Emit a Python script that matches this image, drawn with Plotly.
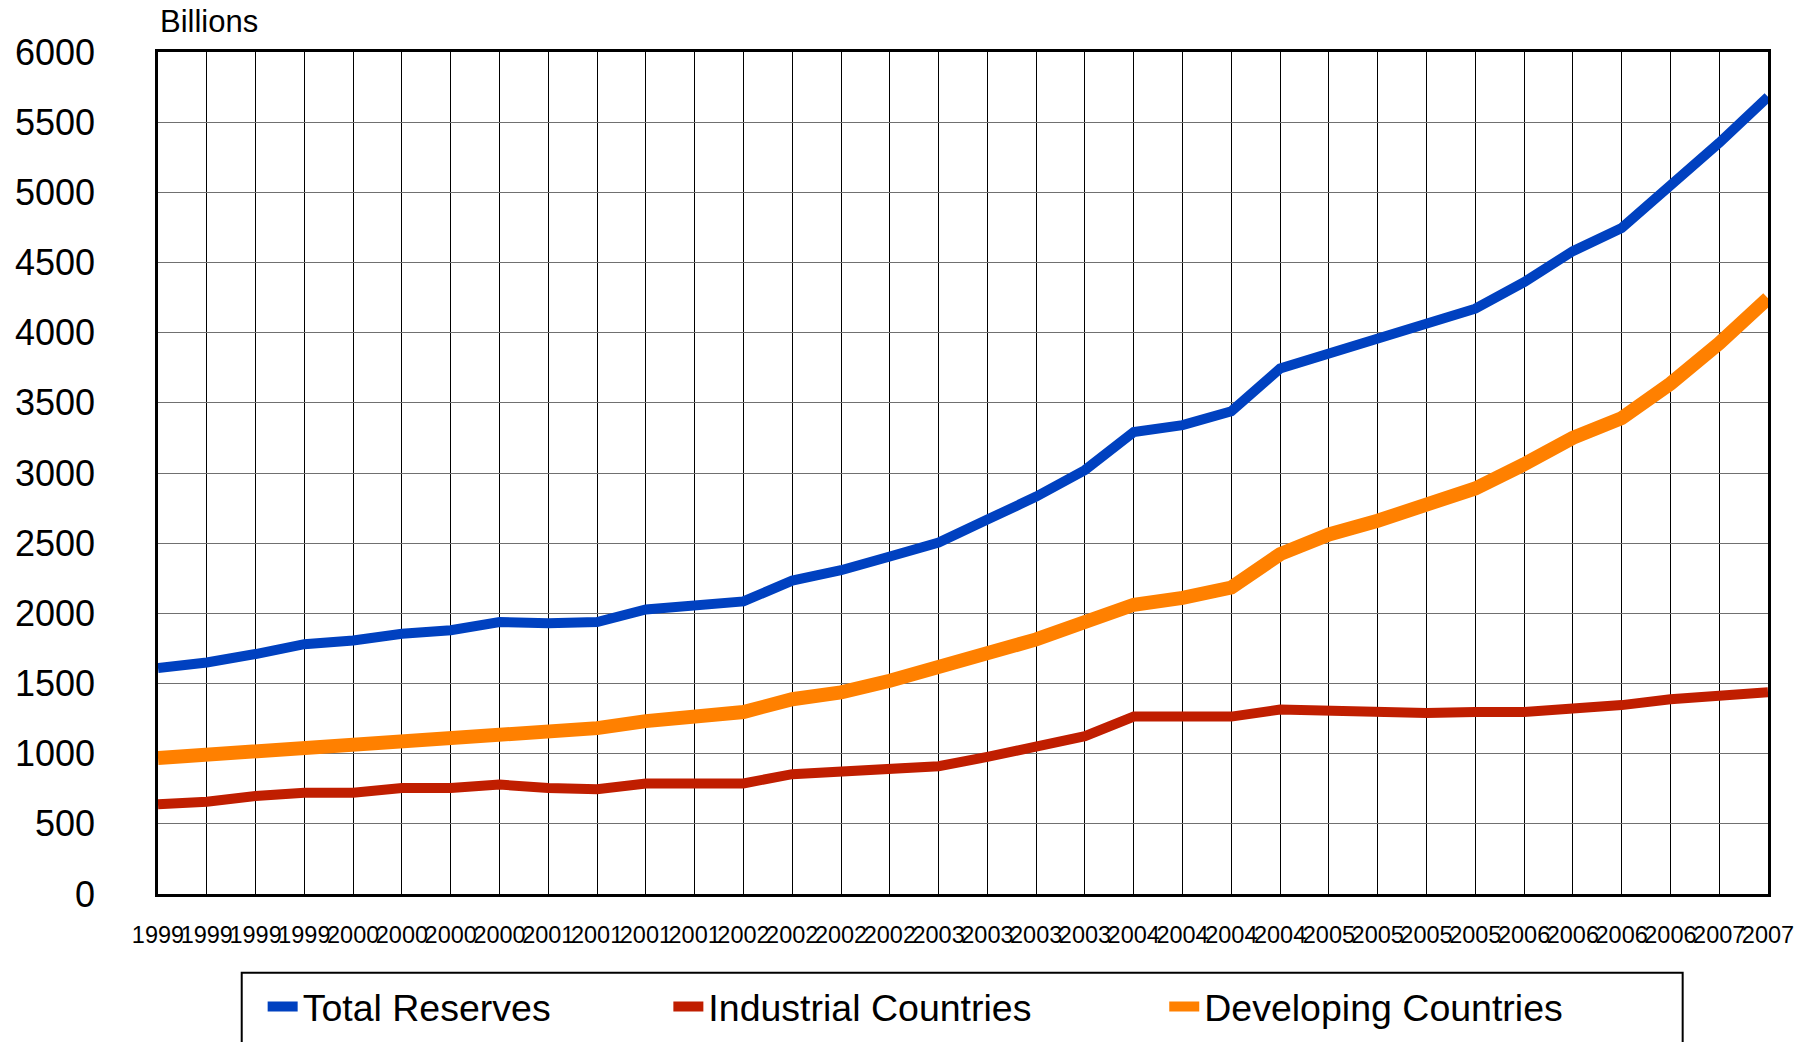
import plotly.graph_objects as go

quarters = ["1999"] * 4 + ["2000"] * 4 + ["2001"] * 4 + ["2002"] * 4 + \
           ["2003"] * 4 + ["2004"] * 4 + ["2005"] * 4 + ["2006"] * 4 + ["2007"] * 2

total_reserves = [1610, 1650, 1710, 1780, 1806, 1855, 1880, 1938, 1930, 1938,
                  2028, 2050, 2085, 2233, 2307, 2405, 2504, 2668, 2832, 3021,
                  3292, 3341, 3440, 3744, 3850, 3949, 4056, 4171, 4360, 4581,
                  4745, 5049, 5353, 5681]
industrial = [640, 657, 698, 722, 722, 755, 755, 780, 755, 747,
              788, 788, 788, 854, 878, 903, 911, 977, 1043, 1125,
              1264, 1256, 1264, 1314, 1305, 1297, 1289, 1297, 1297, 1322,
              1346, 1388, 1412, 1437]
developing = [969, 993, 1018, 1059, 1084, 1100, 1117, 1158, 1174, 1182,
              1232, 1264, 1297, 1388, 1437, 1519, 1609, 1716, 1814, 1938,
              2061, 2110, 2184, 2422, 2562, 2660, 2775, 2890, 3062, 3251,
              3391, 3637, 3924, 4245]

y_ticks = list(range(0, 6001, 500))
idx = list(range(len(quarters)))

FONT = "Liberation Sans, Arial, sans-serif"

fig = go.Figure()
fig.add_trace(go.Scatter(x=idx, y=total_reserves, mode="lines", name="Total Reserves",
                         line=dict(color="#0041C0", width=10), legend="legend"))
fig.add_trace(go.Scatter(x=idx, y=industrial, mode="lines", name="Industrial Countries",
                         line=dict(color="#C01E00", width=10), legend="legend2"))
fig.add_trace(go.Scatter(x=idx, y=developing, mode="lines", name="Developing Countries",
                         line=dict(color="#FF8000", width=14), legend="legend3"))

leg_common = dict(orientation="h", yref="container", yanchor="middle", y=0.034,
                  xanchor="left",
                  font=dict(family=FONT, size=37.5, color="black"),
                  bgcolor="rgba(0,0,0,0)", borderwidth=0)

fig.update_layout(
    width=1806, height=1042,
    margin=dict(l=158, r=33, t=52, b=148),
    plot_bgcolor="white", paper_bgcolor="white",
    font=dict(family=FONT, color="black"),
    showlegend=True,
    legend=dict(x=0.065, **leg_common),
    legend2=dict(x=0.317, **leg_common),
    legend3=dict(x=0.625, **leg_common),
    xaxis=dict(
        range=[0, len(quarters) - 1],
        tickmode="array", tickvals=idx, ticktext=quarters, tickangle=0,
        showgrid=True, gridcolor="black", gridwidth=1,
        showline=True, linecolor="black", linewidth=2.5, mirror=True,
        ticks="", ticklabelstandoff=18,
        tickfont=dict(family=FONT, size=23.5, color="black"),
        zeroline=False,
    ),
    yaxis=dict(
        range=[0, 6000], tickmode="array", tickvals=y_ticks,
        showgrid=True, gridcolor="#707070", gridwidth=1.3,
        showline=True, linecolor="black", linewidth=2.5, mirror=True,
        ticks="", ticklabelstandoff=53,
        tickfont=dict(family=FONT, size=36, color="black"),
        zeroline=False,
    ),
    annotations=[dict(text="Billions", xref="paper", yref="paper", x=0, y=1.036,
                      xanchor="left", yanchor="middle", showarrow=False,
                      font=dict(family=FONT, size=31, color="black"))],
    shapes=[dict(type="rect", xref="paper", yref="paper",
                 x0=0.052, x1=0.947, y0=-0.0936, y1=-0.35,
                 line=dict(color="black", width=2), fillcolor="rgba(0,0,0,0)", layer="below")],
)

fig.write_html("out.html", config={"displayModeBar": False},
               post_script="document.body.style.margin='0';document.body.style.padding='0';")
